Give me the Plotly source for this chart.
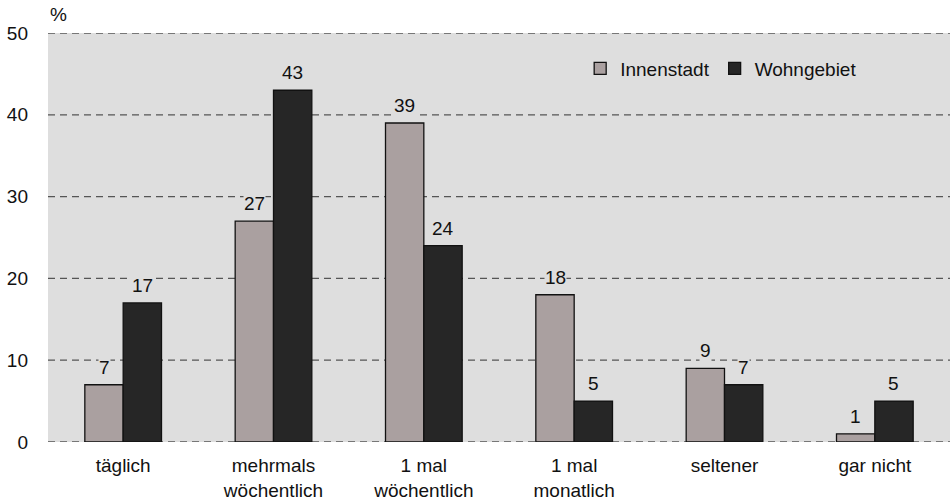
import plotly.graph_objects as go

categories = ["täglich", "mehrmals<br>wöchentlich", "1 mal<br>wöchentlich", "1 mal<br>monatlich", "seltener", "gar nicht"]
innenstadt = [7, 27, 39, 18, 9, 1]
wohngebiet = [17, 43, 24, 5, 7, 5]
y_ticks = [0, 10, 20, 30, 40, 50]

FAM = "Liberation Sans, Arial, sans-serif"
FS = 19
font = dict(family=FAM, size=FS, color="#111")
BG = "#dedede"

fig = go.Figure()
fig.add_bar(x=categories, y=innenstadt, name="Innenstadt",
            marker=dict(color="#aaa0a0", line=dict(color="#111", width=1.3)))
fig.add_bar(x=categories, y=wohngebiet, name="Wohngebiet",
            marker=dict(color="#262626", line=dict(color="#111", width=1.3)))

# value labels (with background that interrupts the dashed gridlines)
annotations = []
for series, shift in ((innenstadt, -19), (wohngebiet, 19)):
    for cat, val in zip(categories, series):
        annotations.append(dict(x=cat, y=val, xref="x", yref="y", text=str(val),
                                showarrow=False, xshift=shift, yshift=6, yanchor="bottom",
                                bgcolor=BG, borderpad=0, font=font))
annotations.append(dict(text="%", x=0, y=1, xref="paper", yref="paper", xanchor="left",
                        yanchor="bottom", yshift=6, showarrow=False, font=font))

# dashed gridlines incl. at 0 and 50
shapes = [dict(type="line", xref="paper", yref="y", x0=0, x1=1, y0=t, y1=t, layer="below",
               line=dict(color="#555", width=1.3, dash="7px,5px")) for t in y_ticks]

fig.update_layout(
    width=952, height=501,
    margin=dict(l=48, r=2, t=33, b=59, autoexpand=False),
    paper_bgcolor="white", plot_bgcolor=BG,
    barmode="group", bargap=0.49, bargroupgap=0,
    font=font,
    showlegend=True,
    legend=dict(orientation="h", x=0.59, y=0.913, xanchor="left", yanchor="middle",
                bgcolor="rgba(0,0,0,0)", font=font, traceorder="normal", itemwidth=30),
    annotations=annotations,
    shapes=shapes,
)
fig.update_yaxes(range=[0, 50], tickvals=y_ticks, showgrid=False, zeroline=False, showline=False,
                 ticks="", ticklabelstandoff=19, tickfont=font, automargin=False)
fig.update_xaxes(showline=False, ticks="", tickfont=font, ticklabelstandoff=10, automargin=False)
fig.write_html("out.html", config={"displayModeBar": False},
               post_script="document.body.style.margin='0';document.body.style.overflow='hidden';")
